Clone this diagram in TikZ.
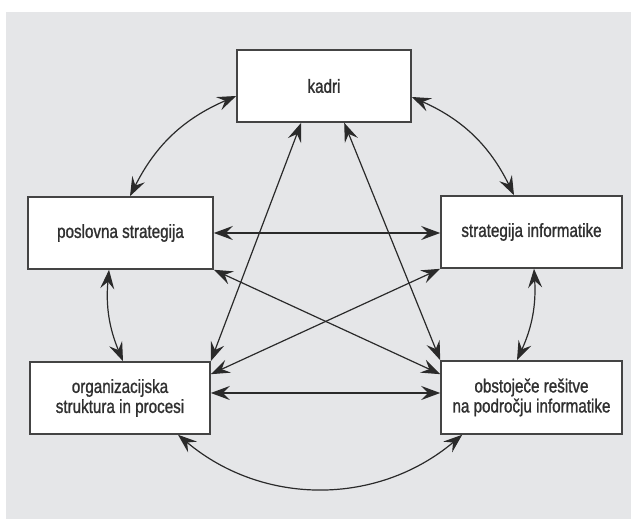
\documentclass[tikz,border=0pt]{standalone}
\usepackage{fontspec}
\setmainfont{Liberation Sans}[FakeStretch=0.8,FakeBold=1.2]
\usetikzlibrary{arrows.meta,calc}
\definecolor{bggray}{HTML}{E5E6E8}
\definecolor{boxline}{HTML}{444444}
\definecolor{arrline}{HTML}{2A2A2A}
\definecolor{txt}{HTML}{303030}
\tikzset{
  box/.style={draw=boxline, line width=1.6pt, fill=white, minimum height=72pt,
    inner sep=2pt, align=center, text=txt, font=\fontsize{19}{20}\selectfont},
  link/.style={draw=arrline, line width=1.2pt,
    {Stealth[length=19pt,width=14pt,inset=7pt]}-{Stealth[length=19pt,width=14pt,inset=7pt]}}
}
\begin{document}
\begin{tikzpicture}[x=1pt,y=1pt]
\useasboundingbox (0,0) rectangle (637,526);
\fill[white] (0,0) rectangle (637,526);
\fill[bggray] (6,7) rectangle (631,514);

\node[box, minimum width=174pt] (kadri) at (324,440) {kadri};
\node[box, minimum width=185pt] (posl) at (120.5,293) {poslovna strategija};
\node[box, minimum width=181pt] (strat) at (531.5,294) {strategija informatike};
\node[box, minimum width=180pt] (org) at (120,128) {organizacijska\\struktura in procesi};
\node[box, minimum width=181pt, minimum height=73pt] (obst) at (531.5,128.5) {obstoječe rešitve\\na področju informatike};

% curved outer links
\draw[link] ([yshift=-10pt]kadri.west) to[bend right=20] ([xshift=9.5pt]posl.north);
\draw[link] ([yshift=-11pt]kadri.east) to[bend left=20] ([xshift=-17.5pt]strat.north);
\draw[link] ([xshift=-11.5pt]posl.south) to[bend right=14] ([xshift=3pt]org.north);
\draw[link] ([xshift=2.5pt]strat.south) to[bend left=14] ([xshift=-14.5pt]obst.north);
\draw[link] ([xshift=58pt]org.south) to[bend right=40] ([xshift=22pt]obst.south west);

% straight links
\draw[link] (posl.east) -- (posl.east -| strat.west);
\draw[link] ([yshift=5pt]org.east) -- ([yshift=5pt]org.east -| obst.west);
\draw[link] ([xshift=65pt]kadri.south west) -- (org.north east);
\draw[link] ([xshift=108pt]kadri.south west) -- (obst.north west);
\draw[link] (posl.south east) -- ([yshift=-14pt]obst.north west);
\draw[link] (strat.south west) -- ([yshift=-13pt]org.north east);
\end{tikzpicture}
\end{document}
